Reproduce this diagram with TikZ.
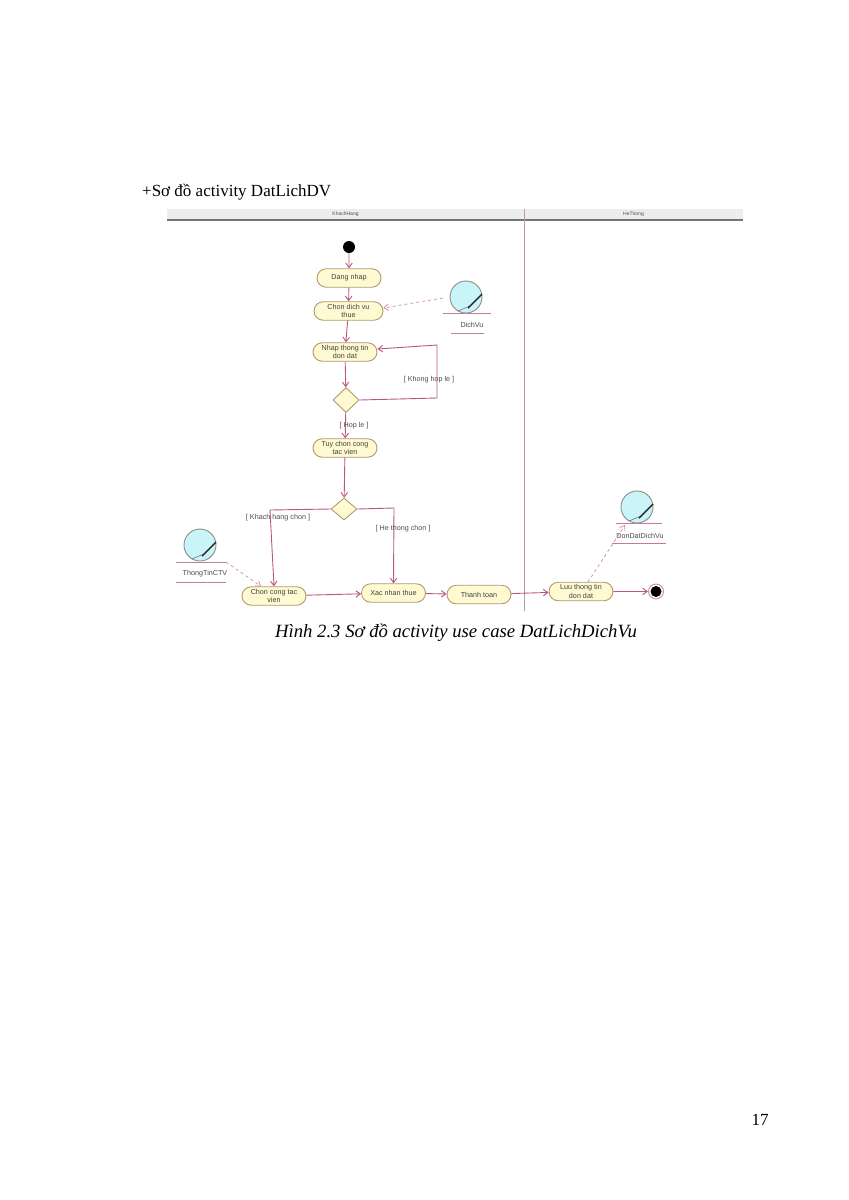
\documentclass[tikz,border=0pt]{standalone}
\usepackage{fontspec}
\setmainfont{Liberation Serif}
\setsansfont{Liberation Sans}
\usetikzlibrary{shapes.geometric,shapes.misc,arrows.meta}
\definecolor{flowcol}{HTML}{B8577F}
\definecolor{boxcol}{HTML}{FFFAD2}
\definecolor{boxline}{HTML}{B09A70}
\definecolor{objcol}{HTML}{C9F5F8}
\begin{document}
\begin{tikzpicture}[x=1pt, y=-1pt, >={Straight Barb[length=4.5pt,width=6.5pt]},
    flow/.style = {draw=flowcol, line width=.9pt, ->},
    link/.style = {draw=flowcol!70, line width=.7pt, dashed, ->},
    act/.style = {draw=boxline, fill=boxcol, line width=.9pt, rounded rectangle, minimum width=64pt, minimum height=18.5pt, inner sep=0pt, align=center, text=black!75, font=\sffamily\fontsize{7.2}{8.8}\selectfont},
    choice/.style = {draw=boxline, fill=boxcol, line width=.9pt, diamond, inner sep=0pt, minimum width=26pt, minimum height=25pt},
    obj/.style = {draw=black!45, fill=objcol, line width=.9pt, circle, minimum size=32pt, inner sep=0pt},
    small/.style = {text=black!70, inner sep=0pt, font=\sffamily\fontsize{7.2}{8.8}\selectfont},
    lane/.style = {fill=black!7, minimum height=11pt, inner sep=0pt, text=black!70, font=\sffamily\fontsize{5}{6}\selectfont}]
    \useasboundingbox (0,0) rectangle (849,1200);
    \node[anchor=base west, inner sep=0pt, font=\fontsize{17}{20}\selectfont] (title) at (142,196) {+Sơ đồ activity DatLichDV};
    % lanes
    \node[lane, minimum width=357pt] (khach) at (345.5,214.5) {KhachHang};
    \node[lane, minimum width=219pt] (hethong) at (633.5,214.5) {HeThong};
    \draw[black!55, line width=2pt] (khach.south west) -- (hethong.south east);
    \coordinate (divtop) at (524.5,209);
    \coordinate (divbot) at (524.5,611);
    \draw[flowcol!60!black!50, line width=1.2pt] (divtop) -- (divbot);
    % activities
    \node[circle, fill=black, minimum size=12pt, inner sep=0pt] (start) at (349,247) {};
    \node[act, node distance=31pt] (dangnhap) [below of=start] {Dang nhap};
    \node[act, node distance=33pt, minimum width=69pt, xshift=-.5pt] (chondv) [below of=dangnhap] {Chon dich vu\\thue};
    \node[act, node distance=41pt, xshift=-3.5pt] (nhaptt) [below of=chondv] {Nhap thong tin\\don dat};
    \node[choice, node distance=48pt, xshift=1pt] (check) [below of=nhaptt] {};
    \node[act, node distance=48pt, xshift=-1pt] (tuychon) [below of=check] {Tuy chon cong\\tac vien};
    \node[choice, node distance=61pt, xshift=-1pt, minimum height=22pt] (pick) [below of=tuychon] {};
    \node[act, node distance=87pt, xshift=-70pt] (choncong) [below of=pick] {Chon cong tac\\vien};
    \node[act, node distance=119.5pt, yshift=3pt] (xacnhan) [right of=choncong] {Xac nhan thue};
    \node[act, node distance=85.5pt, yshift=-1.5pt] (thanhtoan) [right of=xacnhan] {Thanh toan};
    \node[act, node distance=102pt, yshift=3pt] (luutt) [right of=thanhtoan] {Luu thong tin\\don dat};
    \node[circle, fill=black, minimum size=11pt, inner sep=0pt, node distance=75pt] (finish) [right of=luutt] {};
    \draw[flowcol!70, line width=.9pt, fill=none] (finish) circle (7.5);
    % objects
    \node[obj] (dichvu) at (466,297) {};
    \node[small] (dichvutxt) at (472,325) {DichVu};
    \node[obj] (thongtin) at (200,545) {};
    \node[small] (thongtintxt) at (205,574) {ThongTinCTV};
    \node[obj] (dondat) at (637,507) {};
    \node[small] (dondattxt) at (640,536) {DonDatDichVu};
    \foreach \n in {dichvu, thongtin, dondat} {
        \draw[black!60, line width=.5pt] ([shift={(-8,14)}]\n.center) -- ([shift={(4,9)}]\n.center);
        \draw[black!85, line width=1.4pt] ([shift={(2,11)}]\n.center) -- ([shift={(16,-3)}]\n.center);
    }
    \coordinate (dvl) at (443,313); \coordinate (dvr) at (491,313);
    \coordinate (dvl2) at (451,333); \coordinate (dvr2) at (484,333);
    \coordinate (ttl) at (176,562); \coordinate (ttr) at (226,562);
    \coordinate (ttl2) at (176,582); \coordinate (ttr2) at (226,582);
    \coordinate (ddl) at (616,523); \coordinate (ddr) at (662,523);
    \coordinate (ddl2) at (612,543); \coordinate (ddr2) at (666,543);
    \foreach \a/\b in {dvl/dvr, dvl2/dvr2, ttl/ttr, ttl2/ttr2, ddl/ddr, ddl2/ddr2} \draw[flowcol!80, line width=.7pt] (\a) -- (\b);
    % flows
    \draw[flow] (start) -- (dangnhap);
    \draw[flow] (dangnhap) -- (chondv);
    \draw[flow] (chondv) -- (nhaptt);
    \draw[flow] (nhaptt) -- (check);
    \draw[flow] (check) -- (tuychon);
    \draw[flow] (tuychon) -- (pick);
    \coordinate (loopa) at (437,398);
    \coordinate (loopb) at (437,345);
    \draw[flow] (check.east) -- (loopa) -- (loopb) -- ([yshift=3pt]nhaptt.east);
    \coordinate (picka) at (270,510);
    \coordinate (pickb) at (394,508);
    \draw[flow] (pick.west) -- (picka) -- (choncong.north);
    \draw[flow] (pick.east) -- (pickb) -- (xacnhan.north);
    \draw[flow] (choncong) -- (xacnhan);
    \draw[flow] (xacnhan) -- (thanhtoan);
    \draw[flow] (thanhtoan) -- (luutt);
    \draw[flow] (luutt) -- ([xshift=-8pt]finish.center);
    % object links
    \coordinate (dvout) at (443,298);
    \coordinate (ttout) at (226,562);
    \coordinate (ddin) at (625,525);
    \coordinate (luuout) at (588,582);
    \draw[link] (dvout) -- ([yshift=3pt]chondv.east);
    \draw[link] (ttout) -- ([xshift=-13pt]choncong.north);
    \draw[link] (luuout) -- (ddin);
    % guards
    \node[small] (g1) at (429,380) {[ Khong hop le ]};
    \node[small] (g2) at (354,426) {[ Hop le ]};
    \node[small] (g3) at (278,518) {[ Khach hang chon ]};
    \node[small] (g4) at (403,529) {[ He thong chon ]};
    \node[inner sep=0pt, font=\itshape\fontsize{18.7}{22}\selectfont] (caption) at (456,633) {Hình 2.3 Sơ đồ activity use case DatLichDichVu};
    \node[inner sep=0pt, font=\fontsize{17}{20}\selectfont] (page) at (760,1120) {17};
\end{tikzpicture}
\end{document}
